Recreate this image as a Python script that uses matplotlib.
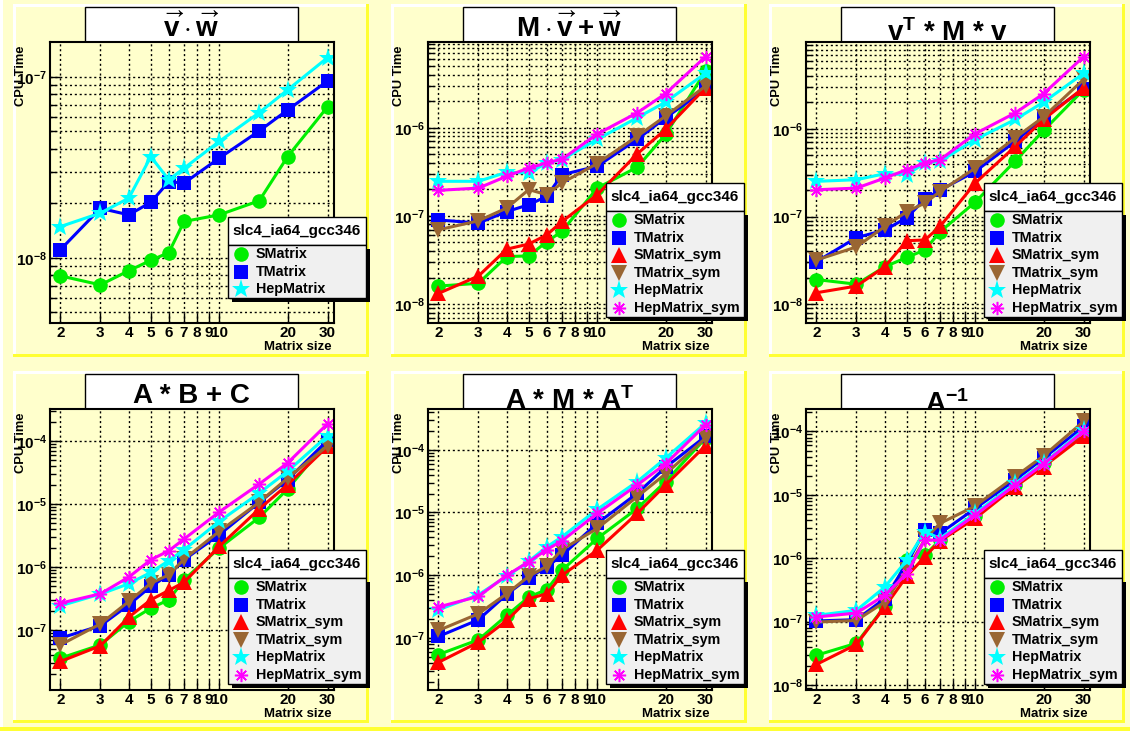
import matplotlib

matplotlib.use("Agg")
import matplotlib.pyplot as plt
from matplotlib.lines import Line2D
from matplotlib.patches import Rectangle
from matplotlib.ticker import FixedLocator, LogLocator, NullFormatter, FuncFormatter
import numpy as np

plt.rcParams["font.family"] = ["Liberation Sans", "DejaVu Sans"]
plt.rcParams["font.weight"] = "bold"
plt.rcParams["mathtext.fontset"] = "custom"
plt.rcParams["mathtext.rm"] = "Liberation Sans:bold"
plt.rcParams["mathtext.it"] = "Liberation Sans:bold"
plt.rcParams["mathtext.bf"] = "Liberation Sans:bold"
plt.rcParams["mathtext.sf"] = "Liberation Sans:bold"
plt.rcParams["mathtext.default"] = "rm"

# matrix sizes
sizes = [2, 3, 4, 5, 6, 7, 10, 15, 20, 30]

# v . w
vw_smatrix = [7.96e-9, 7.1e-9, 8.5e-9, 9.7e-9, 1.07e-8, 1.59e-8, 1.73e-8, 2.07e-8, 3.63e-8, 6.85e-8]
vw_tmatrix = [1.11e-8, 1.88e-8, 1.73e-8, 2.03e-8, 2.64e-8, 2.59e-8, 3.56e-8, 5.03e-8, 6.57e-8, 9.5e-8]
vw_hep = [1.49e-8, 1.77e-8, 2.14e-8, 3.63e-8, 2.70e-8, 3.13e-8, 4.4e-8, 6.35e-8, 8.48e-8, 1.28e-7]

# M . v + w
mv_smatrix = [1.6e-8, 1.72e-8, 3.46e-8, 3.52e-8, 5.1e-8, 6.7e-8, 2.07e-7, 3.57e-7, 8.4e-7, 4.4e-6]
mv_tmatrix = [9.0e-8, 8.3e-8, 1.12e-7, 1.34e-7, 1.67e-7, 2.94e-7, 3.66e-7, 7.4e-7, 1.3e-6, 2.73e-6]
mv_smatrix_sym = [1.32e-8, 2.08e-8, 4.2e-8, 4.8e-8, 6.1e-8, 8.65e-8, 1.74e-7, 5.06e-7, 9.6e-7, 2.85e-6]
mv_tmatrix_sym = [6.96e-8, 8.8e-8, 1.23e-7, 1.99e-7, 1.74e-7, 2.37e-7, 3.93e-7, 8.0e-7, 1.36e-6, 2.98e-6]
mv_hep = [2.47e-7, 2.47e-7, 3.13e-7, 3.07e-7, 4.0e-7, 4.36e-7, 7.4e-7, 1.3e-6, 1.96e-6, 4.16e-6]
mv_hep_sym = [1.95e-7, 2.07e-7, 2.82e-7, 3.5e-7, 4.0e-7, 4.4e-7, 8.5e-7, 1.48e-6, 2.44e-6, 6.43e-6]

# vT * M * v
vmv_smatrix = [1.91e-8, 1.69e-8, 2.67e-8, 3.42e-8, 4.15e-8, 6.7e-8, 1.46e-7, 4.3e-7, 9.6e-7, 2.8e-6]
vmv_tmatrix = [3.05e-8, 5.75e-8, 7.0e-8, 9.7e-8, 1.58e-7, 2.0e-7, 3.27e-7, 7.2e-7, 1.34e-6, 2.87e-6]
vmv_smatrix_sym = [1.35e-8, 1.61e-8, 2.67e-8, 5.3e-8, 5.4e-8, 7.7e-8, 2.41e-7, 6.3e-7, 1.28e-6, 2.95e-6]
vmv_tmatrix_sym = [3.19e-8, 4.5e-8, 7.7e-8, 1.14e-7, 1.42e-7, 1.93e-7, 3.57e-7, 7.9e-7, 1.37e-6, 3.67e-6]
vmv_hep = [2.52e-7, 2.63e-7, 3.08e-7, 3.0e-7, 4.08e-7, 4.27e-7, 7.55e-7, 1.28e-6, 2.02e-6, 4.3e-6]
vmv_hep_sym = [2.02e-7, 2.11e-7, 2.75e-7, 3.42e-7, 4.08e-7, 4.45e-7, 8.8e-7, 1.52e-6, 2.52e-6, 6.67e-6]

# A * B + C
abc_smatrix = [3.53e-8, 5.75e-8, 1.35e-7, 2.21e-7, 3.0e-7, 6.25e-7, 2.0e-6, 6.15e-6, 1.74e-5, 1.0e-4]
abc_tmatrix = [7.36e-8, 1.16e-7, 2.5e-7, 4.9e-7, 7.5e-7, 1.3e-6, 3.26e-6, 1.07e-5, 2.45e-5, 1.04e-4]
abc_smatrix_sym = [3.13e-8, 5.56e-8, 1.59e-7, 3.0e-7, 4.23e-7, 5.7e-7, 2.12e-6, 8.4e-6, 2.04e-5, 8.3e-5]
abc_tmatrix_sym = [5.75e-8, 1.24e-7, 2.82e-7, 5.5e-7, 7.5e-7, 1.33e-6, 3.68e-6, 1.07e-5, 2.6e-5, 8.5e-5]
abc_hep = [2.41e-7, 3.7e-7, 5.4e-7, 8.2e-7, 1.26e-6, 1.88e-6, 5.3e-6, 1.5e-5, 3.33e-5, 1.23e-4]
abc_hep_sym = [2.65e-7, 3.74e-7, 6.9e-7, 1.3e-6, 1.81e-6, 2.78e-6, 7.5e-6, 2.09e-5, 4.52e-5, 1.91e-4]

# A * M * AT
ama_smatrix = [5.4e-8, 9.3e-8, 2.28e-7, 4.48e-7, 5.9e-7, 1.2e-6, 3.85e-6, 1.16e-5, 3.11e-5, 1.54e-4]
ama_tmatrix = [1.05e-7, 1.94e-7, 4.94e-7, 9.1e-7, 1.35e-6, 2.08e-6, 6.7e-6, 2.02e-5, 5.27e-5, 1.64e-4]
ama_smatrix_sym = [4.06e-8, 8.5e-8, 1.89e-7, 4.2e-7, 5.06e-7, 9.95e-7, 2.5e-6, 9.66e-6, 2.75e-5, 1.17e-4]
ama_tmatrix_sym = [1.31e-7, 2.42e-7, 5.06e-7, 9.6e-7, 1.39e-6, 2.56e-6, 5.56e-6, 1.79e-5, 4.13e-5, 1.54e-4]
ama_hep = [2.8e-7, 4.87e-7, 9.6e-7, 1.67e-6, 2.83e-6, 4.09e-6, 1.12e-5, 3.11e-5, 7.36e-5, 2.67e-4]
ama_hep_sym = [3.1e-7, 4.58e-7, 9.95e-7, 1.63e-6, 2.56e-6, 3.53e-6, 9.66e-6, 2.75e-5, 5.97e-5, 2.51e-4]

# A^-1
inv_smatrix = [2.93e-8, 4.54e-8, 1.73e-7, 9.5e-7, 1.11e-6, 1.93e-6, 4.62e-6, 1.43e-5, 3.15e-5, 9.4e-5]
inv_tmatrix = [1.02e-7, 1.07e-7, 2.3e-7, 8.2e-7, 2.77e-6, 2.46e-6, 6.1e-6, 1.72e-5, 3.78e-5, 1.2e-4]
inv_smatrix_sym = [2.1e-8, 4.35e-8, 1.7e-7, 5.2e-7, 1.05e-6, 1.88e-6, 4.25e-6, 1.35e-5, 2.79e-5, 8.5e-5]
inv_tmatrix_sym = [9.8e-8, 1.04e-7, 2.04e-7, 6.5e-7, 1.98e-6, 3.54e-6, 6.65e-6, 1.94e-5, 4.12e-5, 1.44e-4]
inv_hep = [1.25e-7, 1.5e-7, 3.5e-7, 9.3e-7, 2.61e-6, 2.05e-6, 5.1e-6, 1.52e-5, 3.15e-5, 1.06e-4]
inv_hep_sym = [1.18e-7, 1.36e-7, 2.6e-7, 5.7e-7, 1.93e-6, 1.93e-6, 4.8e-6, 1.43e-5, 3.08e-5, 1.0e-4]

series_names = ["SMatrix", "TMatrix", "SMatrix_sym", "TMatrix_sym", "HepMatrix", "HepMatrix_sym"]
xtick_vals = [2, 3, 4, 5, 6, 7, 8, 9, 10, 20, 30]

titles = [
    r"$\overrightarrow{v}\cdot\overrightarrow{w}$",
    r"$M\cdot\overrightarrow{v}+\overrightarrow{w}$",
    r"v$^{T}$ * M * v",
    "A * B + C",
    r"A * M * A$^{T}$",
    r"A$^{-1}$",
]
# baseline offset of each title below the pad top (ROOT lets the frame hide part of some)
title_base = [33, 33, 37, 32, 38, 41]

panel_data = [
    [vw_smatrix, vw_tmatrix, None, None, vw_hep, None],
    [mv_smatrix, mv_tmatrix, mv_smatrix_sym, mv_tmatrix_sym, mv_hep, mv_hep_sym],
    [vmv_smatrix, vmv_tmatrix, vmv_smatrix_sym, vmv_tmatrix_sym, vmv_hep, vmv_hep_sym],
    [abc_smatrix, abc_tmatrix, abc_smatrix_sym, abc_tmatrix_sym, abc_hep, abc_hep_sym],
    [ama_smatrix, ama_tmatrix, ama_smatrix_sym, ama_tmatrix_sym, ama_hep, ama_hep_sym],
    [inv_smatrix, inv_tmatrix, inv_smatrix_sym, inv_tmatrix_sym, inv_hep, inv_hep_sym],
]
ylims = [(4.37e-9, 1.56e-7), (6.1e-9, 9.4e-6), (6.1e-9, 9.8e-6),
         (1.1e-8, 3.27e-4), (1.47e-8, 4.48e-4), (8.3e-9, 2.26e-4)]

colors = ["#00ee00", "#0000ff", "#ff0000", "#996633", "#00ffff", "#ff00ff"]
markers = ["o", "s", "^", "v", "*", (8, 2, 0)]
msizes = [10.5, 9.5, 11, 11, 14, 9.5]

BG = "#ffffcc"
BEVEL_DARK = "#ffff33"
W, H = 1130, 731


def box(x, y, w, h):
    # pixel box (top-left origin) -> figure fraction rect
    return [x / W, 1 - (y + h) / H, w / W, h / H]


def px(x, y):
    return x / W, 1 - y / H


def add_rect(fig, x, y, w, h, **kw):
    r = Rectangle((x / W, 1 - (y + h) / H), w / W, h / H, transform=fig.transFigure, **kw)
    fig.add_artist(r)
    return r


fig = plt.figure(figsize=(W / 100, H / 100), dpi=100)
fig.patch.set_facecolor(BG)

# canvas bevel
add_rect(fig, 0, 0, 3, H, facecolor="white", edgecolor="none", zorder=-5)
add_rect(fig, 0, H - 4, W, 4, facecolor=BEVEL_DARK, edgecolor="none", zorder=-5)

pad_x = [13, 391, 769]
pad_y = [4, 371]
pad_w = 356
pad_h = [353, 352]

for i in range(6):
    col, row = i % 3, i // 3
    x0, y0, ph = pad_x[col], pad_y[row], pad_h[row]
    # pad bevel
    add_rect(fig, x0, y0, pad_w, 3, facecolor="white", edgecolor="none", zorder=-4)
    add_rect(fig, x0, y0, 3, ph, facecolor="white", edgecolor="none", zorder=-4)
    add_rect(fig, x0, y0 + ph - 3, pad_w, 3, facecolor=BEVEL_DARK, edgecolor="none", zorder=-4)
    add_rect(fig, x0 + pad_w - 3, y0, 3, ph, facecolor=BEVEL_DARK, edgecolor="none", zorder=-4)

    fx, fy = x0 + 37, y0 + 38
    fw, fh = 284, 281

    # title box, partly hidden behind the frame like in ROOT
    add_rect(fig, x0 + 72, y0 + 3, 213, fy - y0 - 3, facecolor="white", edgecolor="black",
             lw=1, zorder=-2)
    tx, ty = px(x0 + 72 + 106.5, y0 + title_base[i])
    fig.text(tx, ty, titles[i], ha="center", va="baseline", fontsize=20, fontweight="bold",
             zorder=-1)

    ax = fig.add_axes(box(fx, fy, fw, fh))
    ax.set_facecolor(BG)
    ax.set_xscale("log")
    ax.set_yscale("log")
    for k, ys in enumerate(panel_data[i]):
        if ys is None:
            continue
        ax.plot(sizes, ys, color=colors[k], lw=2.2, marker=markers[k], ms=msizes[k],
                mfc=colors[k], mec=colors[k], mew=1.1 if k == 5 else 0)
    ax.set_xlim(1.8, 32)
    ax.set_ylim(*ylims[i])

    ax.xaxis.set_major_locator(FixedLocator(xtick_vals))
    ax.xaxis.set_major_formatter(FuncFormatter(lambda v, p: f"{int(round(v))}"))
    ax.xaxis.set_minor_locator(FixedLocator([]))
    ax.yaxis.set_major_locator(LogLocator(base=10, numticks=20))
    ax.yaxis.set_minor_locator(LogLocator(base=10, subs=np.arange(2, 10), numticks=20))
    ax.yaxis.set_minor_formatter(NullFormatter())
    ax.yaxis.set_major_formatter(
        FuncFormatter(lambda v, p: r"$10^{%d}$" % int(round(np.log10(v)))))
    ax.tick_params(which="both", direction="in", top=False, right=False, width=1,
                   labelsize=11, pad=2)
    ax.tick_params(which="major", length=7)
    ax.tick_params(which="minor", length=4)
    for s in ax.spines.values():
        s.set_linewidth(1.5)
    dots = (0, (1.5, 2.0))
    ax.grid(True, which="major", axis="x", color="black", lw=1, ls=dots)
    ax.grid(True, which="both" if i < 3 else "major", axis="y", color="black", lw=1, ls=dots)
    ax.set_axisbelow(True)

    fig.text(*px(x0 + 8, fy + 3), "CPU Time", rotation=90, ha="center", va="top",
             fontsize=9.3, fontweight="bold")
    fig.text(*px(fx + fw - 2, fy + fh + 24), "Matrix size", ha="right", va="center",
             fontsize=9.5, fontweight="bold")

    # legend: header pave + entries with shadow
    entries = [k for k, ys in enumerate(panel_data[i]) if ys is not None]
    n = len(entries)
    lx = fx + 178
    lw_ = 138
    row_h = 17.6
    body_h = row_h * n
    ly = fy + (175 if n == 3 else 141)
    add_rect(fig, lx, ly, lw_, 28, facecolor="white", edgecolor="black", lw=1, zorder=5)
    fig.text(*px(lx + lw_ / 2, ly + 14), "slc4_ia64_gcc346", ha="center", va="center",
             fontsize=11, fontweight="bold", zorder=6)
    add_rect(fig, lx + 4, ly + 28 + 4, lw_, body_h, facecolor="black", edgecolor="none", zorder=5)
    add_rect(fig, lx, ly + 28, lw_, body_h, facecolor="#f0f0f0", edgecolor="black", lw=1,
             zorder=5.5)
    for r, k in enumerate(entries):
        cy = ly + 28 + 9 + row_h * r
        mx, my = px(lx + 13, cy)
        fig.add_artist(Line2D([mx], [my], transform=fig.transFigure, ls="none",
                              marker=markers[k], ms=msizes[k], mfc=colors[k], mec=colors[k],
                              mew=1.1 if k == 5 else 0, zorder=6))
        fig.text(*px(lx + 28, cy), series_names[k], ha="left", va="center",
                 fontsize=10.3, fontweight="bold", zorder=6)

fig.savefig("out.png", dpi=100, facecolor=BG)
